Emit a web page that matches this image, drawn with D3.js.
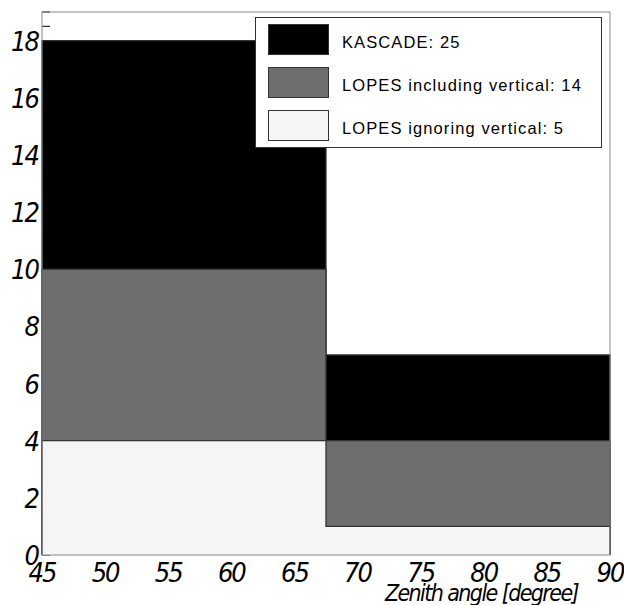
<!DOCTYPE html>
<html><head><meta charset="utf-8">
<script src="https://cdn.jsdelivr.net/npm/d3@7"></script>
<style>body{margin:0;background:#fff}svg{display:block}</style>
</head><body><svg id="c" width="624" height="605"></svg>
<script>
const binEdges = [45, 67.5, 90];
const kascade = [18, 7];
const lopesIncl = [10, 4];
const lopesIgn = [4, 1];
const seriesNames = ["KASCADE: 25", "LOPES including vertical: 14", "LOPES ignoring vertical: 5"];
const xTicks = [45, 50, 55, 60, 65, 70, 75, 80, 85, 90];
const yTicks = [0, 2, 4, 6, 8, 10, 12, 14, 16, 18];
const xTitle = "Zenith angle [degree]";

const svg = d3.select("#c");
const L = 42, R = 610, T = 12, B = 555;
const x = d3.scaleLinear().domain([45, 90]).range([L, R]);
const y = d3.scaleLinear().domain([0, 19]).range([B, T]);
const colors = ["#000000", "#6e6e6e", "#f5f5f5"];
const axFont = "'DejaVu Sans Condensed', 'DejaVu Sans', sans-serif";
const lgFont = "'Liberation Sans', Arial, sans-serif";

// minor ticks (inside), drawn beneath bars
const minor = d3.range(0, 19.01, 0.5);
svg.append("g").selectAll("line").data(minor).join("line")
  .attr("x1", L).attr("x2", L + 8).attr("y1", d => y(d)).attr("y2", d => y(d))
  .attr("stroke", "#000").attr("stroke-width", 1);

// histograms: filled step areas with step outline (ROOT style)
const series = [kascade, lopesIncl, lopesIgn];
const area = d3.area().curve(d3.curveStepAfter).x(d => x(d[0])).y0(y(0)).y1(d => y(d[1]));
const line = d3.line().curve(d3.curveStepAfter).x(d => x(d[0])).y(d => y(d[1]));
series.forEach((vals, si) => {
  const pts = binEdges.map((e, i) => [e, i < vals.length ? vals[i] : vals[vals.length - 1]]);
  svg.append("path").datum(pts).attr("d", area).attr("fill", colors[si]);
  const outline = [[binEdges[0], 0]].concat(pts).concat([[binEdges[binEdges.length - 1], 0]]);
  svg.append("path").datum(outline).attr("d", line)
    .attr("fill", "none").attr("stroke", "#333").attr("stroke-width", 1.3);
});

// frame
svg.append("rect").attr("x", L).attr("y", T).attr("width", R - L).attr("height", B - T)
  .attr("fill", "none").attr("stroke", "#888").attr("stroke-width", 1);

// y labels
svg.append("g").selectAll("text").data(yTicks).join("text")
  .attr("x", 38).attr("y", d => y(d) + 10)
  .attr("text-anchor", "end")
  .attr("font-family", axFont).attr("font-style", "italic").attr("font-size", 27)
  .attr("letter-spacing", -2)
  .text(d => d);

// x labels
svg.append("g").selectAll("text").data(xTicks).join("text")
  .attr("x", d => x(d)).attr("y", 582)
  .attr("text-anchor", "middle")
  .attr("font-family", axFont).attr("font-style", "italic").attr("font-size", 27)
  .attr("letter-spacing", -2)
  .text(d => d);

svg.append("text").attr("x", 578).attr("y", 601).attr("text-anchor", "end")
  .attr("font-family", axFont).attr("font-style", "italic").attr("font-size", 23)
  .attr("letter-spacing", -1.6)
  .text(xTitle);

// legend
const lg = svg.append("g");
lg.append("rect").attr("x", 255.5).attr("y", 17.5).attr("width", 346).attr("height", 130)
  .attr("fill", "#fff").attr("stroke", "#333").attr("stroke-width", 1);
seriesNames.forEach((n, i) => {
  const yy = 24.5 + i * 43;
  lg.append("rect").attr("x", 268.5).attr("y", yy).attr("width", 60).attr("height", 30)
    .attr("fill", colors[i]).attr("stroke", "#333").attr("stroke-width", 1);
  lg.append("text").attr("x", 342).attr("y", yy + 23)
    .attr("font-family", lgFont).attr("font-size", 16.5).attr("letter-spacing", 1.1)
    .attr("fill", "#000").text(n);
});
</script></body></html>
